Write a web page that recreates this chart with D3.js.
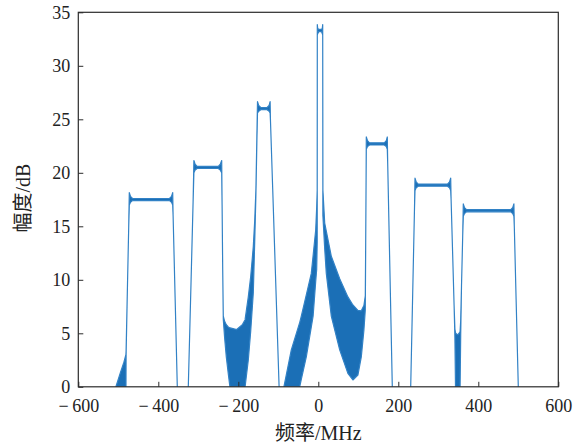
<!DOCTYPE html>
<html>
<head>
<meta charset="utf-8">
<script src="https://cdn.jsdelivr.net/npm/d3@7"></script>
<style>
  body { margin: 0; background: #fff; }
</style>
</head>
<body>
<svg id="drawing_region"></svg>
<script>
// spectrum envelope: at each frequency the trace swings between lower and upper (dB)
const freq = [
    -600, -508, -506, -495, -486, -481, -480.5, -477, -474,
    -472.5, -469.5, -464.5, -372, -367, -364, -363, -358, -352.5, -352,
    -325.5, -325, -318, -313, -311, -308, -303, -250, -245, -241.5, -240.5, -239,
    -237.5, -234, -230, -225, -221, -220.5, -204, -190, -183.5, -183,
    -175, -169, -162.5, -159, -156, -153.5,
    -152, -149, -144, -128, -123, -120.5, -119.5, -114, -107, -98, -97.5,
    -86.5, -86, -67.5, -47, -46.5, -42.5, -30, -17.5, -13, -6.5, -4, -2.75,
    -2.5, -1.5, 1.5, 8, 10, 11, 11.5,
    16, 20, 32.5, 53.5, 74, 86.5, 99, 107.5, 114, 117.5, 118.5, 119.5,
    120, 123, 128, 165, 170, 172.5, 173.5, 178, 185, 185.5,
    230.5, 231, 236, 240.5, 241.75, 244.75, 249.75, 323, 328, 331,
    332, 336, 339.5, 341.5, 343, 343.5, 348.5, 354, 354.5, 356, 358, 361,
    362.5, 365.5, 370.5, 481, 486, 489, 490, 494.5, 500, 500.5, 600
];
const upper = [
    -2, -2, 0, 1.3, 2.3, 3.0, 3.4, 9.6, 14.9,
    18.15, 17.8, 17.6, 17.6, 17.8, 18.15, 16.0, 8.4, 0, -2,
    -2, 0, 10, 17.3, 21.15, 20.8, 20.6, 20.6, 20.8, 21.15, 17, 11,
    6.6, 6.1, 5.8, 5.6, 5.5, 5.5, 5.35, 5.8, 6.25, 6.3,
    8.4, 10.3, 13.1, 15.5, 18.4, 23.5,
    26.65, 26.3, 26.1, 26.1, 26.3, 26.65, 24.8, 18.5, 10.4, 0, -2,
    -2, 0, 3.45, 5.95, 6.0, 6.6, 8.6, 10.6, 12.25, 14.65, 16.8, 18.4,
    33.85, 33.5, 33.4, 33.4, 33.5, 33.85, 18.4,
    15.3, 14.55, 12.2, 10.1, 8.4, 7.65, 7.15, 7.1, 7.6, 8.5, 13.5, 19.5,
    23.35, 23.0, 22.8, 22.8, 23.0, 23.35, 20.9, 12.7, 0, -2,
    -2, 0, 8.75, 16.7, 19.5, 19.15, 18.95, 18.95, 19.15, 19.5,
    17.5, 12.25, 7.6, 5.4, 5.05, 5.0, 4.85, 5.1, 5.2, 6.2, 9.4, 14.1,
    17.1, 16.75, 16.55, 16.55, 16.75, 17.1, 15, 8.2, 0, -2, -2
];
const lower = [
    -2, -2, -2, -2, -2, -2, 3.0, 9.6, 14.9,
    17.0, 17.25, 17.4, 17.4, 17.25, 17.0, 16.0, 8.4, 0, -2,
    -2, 0, 10, 17.3, 20.0, 20.25, 20.4, 20.4, 20.25, 20.0, 17, 11,
    6.3, 4.5, 2.8, 1.2, 0, -2, -2, -2, -2, 0,
    2.5, 5.2, 8.8, 13.5, 17.9, 23.0,
    25.6, 25.75, 25.9, 25.9, 25.75, 25.6, 24.8, 18.5, 10.4, 0, -2,
    -2, -2, -2, -2, 0, 0.7, 2.8, 5.6, 6.6, 9.85, 11.0, 13.5,
    32.9, 33.0, 33.2, 33.2, 33.0, 32.9, 16.0,
    12.9, 10.6, 6.6, 3.45, 1.25, 0.64, 1.1, 2.8, 5.3, 7.2, 13.5, 19.5,
    22.2, 22.45, 22.6, 22.6, 22.45, 22.2, 20.9, 12.7, 0, -2,
    -2, 0, 8.75, 16.7, 18.35, 18.6, 18.75, 18.75, 18.6, 18.35,
    17.5, 12.25, 7.6, 4.6, 0, -2, -2, -2, 0, 4.8, 9.4, 14.1,
    15.95, 16.2, 16.35, 16.35, 16.2, 15.95, 15, 8.2, 0, -2, -2
];

const xticks = [-600, -400, -200, 0, 200, 400, 600];
const yticks = [0, 5, 10, 15, 20, 25, 30, 35];

const data = freq.map((f, i) => ({ f: f, hi: upper[i], lo: lower[i] }));

var config = {
    parent: '#drawing_region',
    width: 584,
    height: 446,
    plot: { left: 78.3, right: 558.3, top: 12.3, bottom: 386.8 },
    xlabel: "频率/MHz",
    ylabel: "幅度/dB"
};

class SpectrumPlot {

    constructor( config, data ) {
        this.config = config;
        this.data = data;
        this.init();
    }

    init() {
        let self = this;
        const p = self.config.plot;

        self.svg = d3.select( self.config.parent )
            .attr('width', self.config.width)
            .attr('height', self.config.height)
            .style('display', 'block');

        self.xscale = d3.scaleLinear()
            .domain( [-600, 600] )
            .range( [p.left, p.right] );

        self.yscale = d3.scaleLinear()
            .domain( [0, 35] )
            .range( [p.bottom, p.top] );

        self.svg.append('clipPath')
            .attr('id', 'plot_clip')
            .append('rect')
            .attr('x', p.left)
            .attr('y', p.top)
            .attr('width', p.right - p.left)
            .attr('height', p.bottom - p.top);

        self.inner = self.svg.append('g')
            .attr('clip-path', 'url(#plot_clip)');

        self.xaxis = d3.axisBottom( self.xscale )
            .tickValues( xticks )
            .tickSizeInner( -5 )
            .tickSizeOuter( 0 )
            .tickFormat( d => d < 0 ? "\u2212\u2009" + Math.abs(d) : d );

        self.yaxis = d3.axisLeft( self.yscale )
            .tickValues( yticks )
            .tickSizeInner( -5 )
            .tickSizeOuter( 0 );

        self.xaxis_group = self.svg.append('g')
            .attr('transform', `translate(0, ${p.bottom})`);

        self.yaxis_group = self.svg.append('g')
            .attr('transform', `translate(${p.left}, 0)`);

        self.svg.append('text')
            .attr('x', (p.left + p.right) / 2)
            .attr('y', 440)
            .attr('text-anchor', 'middle')
            .attr('font-family', '"Liberation Serif", "Noto Sans CJK SC", serif')
            .attr('font-size', '20px')
            .attr('fill', '#222')
            .text( self.config.xlabel );

        self.svg.append('text')
            .attr('transform', `translate(30, 198) rotate(-90)`)
            .attr('text-anchor', 'middle')
            .attr('font-family', '"Liberation Serif", "Noto Sans CJK SC", serif')
            .attr('font-size', '20px')
            .attr('fill', '#222')
            .text( self.config.ylabel );
    }

    render() {
        let self = this;
        const p = self.config.plot;

        const area = d3.area()
            .x( d => self.xscale( d.f ) )
            .y0( d => self.yscale( d.lo ) )
            .y1( d => self.yscale( d.hi ) );

        self.inner.append('path')
            .datum( self.data )
            .attr('d', area)
            .attr('fill', '#1b6fb6')
            .attr('stroke', '#3282c6')
            .attr('stroke-width', 1.2)
            .attr('stroke-linejoin', 'round');

        self.svg.append('rect')
            .attr('x', p.left)
            .attr('y', p.top)
            .attr('width', p.right - p.left)
            .attr('height', p.bottom - p.top)
            .attr('fill', 'none')
            .attr('stroke', '#2b2b2b')
            .attr('stroke-width', 1.2);

        self.xaxis_group.call( self.xaxis );
        self.yaxis_group.call( self.yaxis );

        [self.xaxis_group, self.yaxis_group].forEach( g => {
            g.select('.domain').remove();
            g.selectAll('line').attr('stroke', '#2b2b2b');
            g.selectAll('text')
                .attr('font-family', '"Liberation Serif", serif')
                .attr('font-size', '18px')
                .attr('fill', '#222');
        });

        self.xaxis_group.selectAll('text')
            .attr('y', 12)
            .attr('dy', '0.71em');

        self.yaxis_group.selectAll('text')
            .attr('x', -8)
            .attr('dy', '0.34em');
    }
}

const spectrum_plot = new SpectrumPlot( config, data );
spectrum_plot.render();
</script>
</body>
</html>
